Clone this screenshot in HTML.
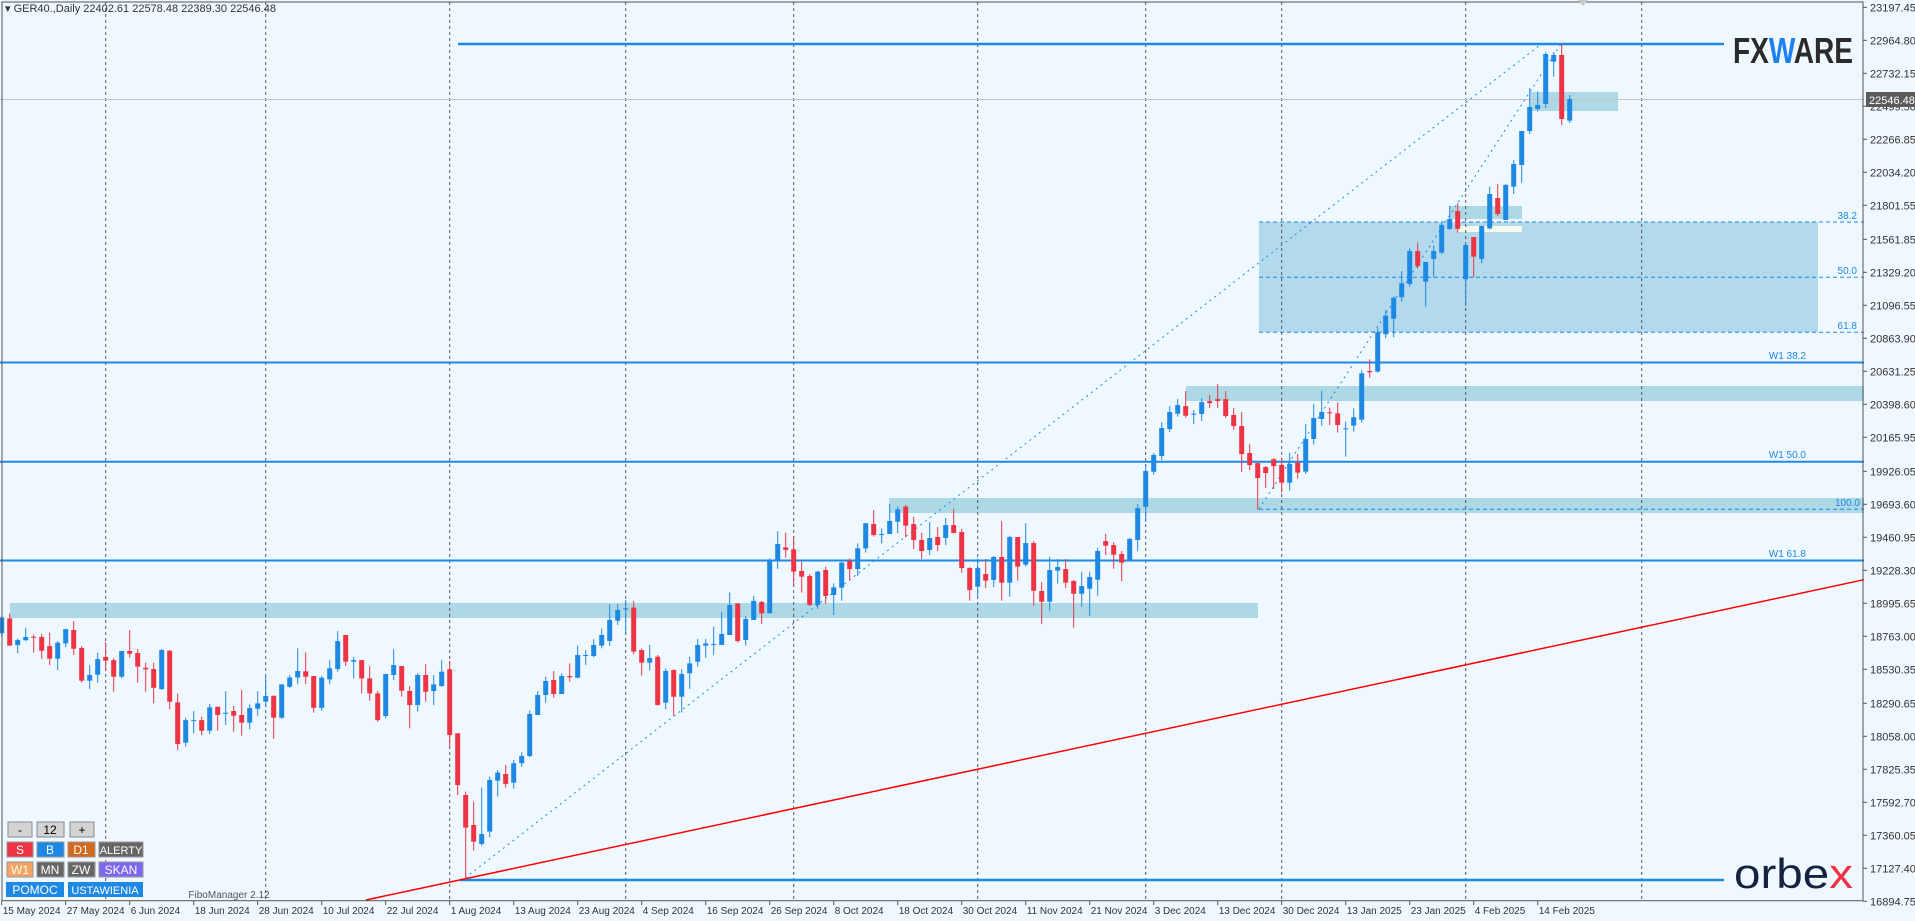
<!DOCTYPE html>
<html><head><meta charset="utf-8">
<style>
html,body{margin:0;padding:0;background:#f0f8ff;}
svg{display:block;font-family:"Liberation Sans",sans-serif;}
</style></head>
<body>
<svg id="chart" width="1915" height="921" viewBox="0 0 1915 921" xmlns="http://www.w3.org/2000/svg">
<rect x="0" y="0" width="1915" height="921" fill="#f0f8ff"/>
<g id="zones">
<rect x="10" y="603" width="1248" height="15" fill="#add8e6"/>
<rect x="889" y="498" width="975" height="15" fill="#add8e6"/>
<rect x="1186" y="386" width="678" height="15" fill="#add8e6"/>
<rect x="1259" y="222" width="559" height="110" fill="#b3d9ec"/>
<rect x="1450" y="206" width="72" height="13" fill="#add8e6"/>
<rect x="1457" y="226" width="65" height="6" fill="#f4fbef"/>
<rect x="1530" y="92" width="88" height="19" fill="#add8e6"/>
</g>
<g id="grid"></g>
<g id="levels">
<line x1="0" y1="99.5" x2="1864" y2="99.5" stroke="#c4c4c4" stroke-width="1"/>
<line x1="458" y1="44" x2="1724" y2="44" stroke="#1e88e5" stroke-width="2.5"/>
<line x1="460" y1="880" x2="1724" y2="880" stroke="#1e88e5" stroke-width="2.5"/>
<line x1="0" y1="362.5" x2="1864" y2="362.5" stroke="#1e88e5" stroke-width="2"/>
<line x1="0" y1="461.7" x2="1864" y2="461.7" stroke="#1e88e5" stroke-width="2"/>
<line x1="0" y1="560.5" x2="1864" y2="560.5" stroke="#1e88e5" stroke-width="2"/>
<line x1="1259" y1="222" x2="1864" y2="222" stroke="#1e88e5" stroke-width="1" stroke-dasharray="4,3"/>
<line x1="1259" y1="277.3" x2="1864" y2="277.3" stroke="#1e88e5" stroke-width="1" stroke-dasharray="4,3"/>
<line x1="1259" y1="332.3" x2="1864" y2="332.3" stroke="#1e88e5" stroke-width="1" stroke-dasharray="4,3"/>
<line x1="1259" y1="509.3" x2="1864" y2="509.3" stroke="#1e88e5" stroke-width="1" stroke-dasharray="4,3"/>
<line x1="465" y1="878" x2="1540" y2="45" stroke="#1e88e5" stroke-width="1" stroke-dasharray="2,4"/>
<line x1="1259" y1="509" x2="1561" y2="44" stroke="#1e88e5" stroke-width="1" stroke-dasharray="2,4"/>
<line x1="366" y1="900" x2="1864" y2="579.7" stroke="#ff0000" stroke-width="1.5"/>
<g font-size="10" fill="#1e88e5" text-anchor="end">
<text x="1857" y="219">38.2</text>
<text x="1857" y="274">50.0</text>
<text x="1857" y="329">61.8</text>
<text x="1860" y="506">100.0</text>
<text x="1806" y="359">W1 38.2</text>
<text x="1806" y="458">W1 50.0</text>
<text x="1806" y="557">W1 61.8</text>
</g>
</g>
<g id="candles"></g>
<rect x="2" y="2" width="1861" height="898.7" fill="none" stroke="#555" stroke-width="1"/>
<polygon points="1578,0 1588,0 1583,6" fill="#c8c8c8"/>
<g id="yaxis"></g>
<g id="xaxis"></g>
<g>
<rect x="1866" y="92" width="49" height="15" fill="#5b5b5b"/>
<text x="1869" y="104" font-size="11" fill="#fff">22546.48</text>
</g>
<text x="5" y="12" font-size="11" fill="#333">▾ GER40.,Daily  22402.61 22578.48 22389.30 22546.48</text>
<g>
<text x="1733" y="63" font-size="36" font-weight="bold" fill="#2b2b2b" textLength="120" lengthAdjust="spacingAndGlyphs">FX<tspan fill="#1e7ff0">W</tspan>ARE</text>
</g>
<g>
<text x="1734" y="888" font-size="42" fill="#14223f" textLength="119" lengthAdjust="spacingAndGlyphs">orbe<tspan fill="#ee3344">x</tspan></text>
</g>
<g font-size="12" text-anchor="middle">
<rect x="8" y="822" width="24" height="15" fill="#d3d3d3" stroke="#888"/><text x="20" y="834" fill="#000">-</text>
<rect x="37" y="822" width="27" height="15" fill="#d3d3d3" stroke="#888"/><text x="50" y="834" fill="#000">12</text>
<rect x="70" y="822" width="24" height="15" fill="#d3d3d3" stroke="#888"/><text x="82" y="834" fill="#000">+</text>
<rect x="7" y="842" width="26" height="15" fill="#ee3344" stroke="#999"/><text x="20" y="854" fill="#fff">S</text>
<rect x="37" y="842" width="27" height="15" fill="#1e88e5" stroke="#999"/><text x="50" y="854" fill="#fff">B</text>
<rect x="68" y="842" width="27" height="15" fill="#d2691e" stroke="#999"/><text x="81" y="854" fill="#fff">D1</text>
<rect x="99" y="842" width="44" height="15" fill="#666" stroke="#999"/><text x="121" y="854" fill="#fff" font-size="11">ALERTY</text>
<rect x="7" y="862" width="26" height="15" fill="#f4a460" stroke="#999"/><text x="20" y="874" fill="#fff">W1</text>
<rect x="37" y="862" width="27" height="15" fill="#666" stroke="#999"/><text x="50" y="874" fill="#fff">MN</text>
<rect x="68" y="862" width="27" height="15" fill="#666" stroke="#999"/><text x="81" y="874" fill="#fff">ZW</text>
<rect x="99" y="862" width="44" height="15" fill="#7b68ee" stroke="#999"/><text x="121" y="874" fill="#fff">SKAN</text>
<rect x="6" y="882" width="58" height="15" fill="#1e88e5"/><text x="35" y="894" fill="#fff">POMOC</text>
<rect x="68" y="882" width="75" height="15" fill="#1e88e5"/><text x="105" y="894" fill="#fff" font-size="11">USTAWIENIA</text>
<text x="229" y="898" font-size="10" fill="#555">FiboManager 2.12</text>
</g>
</svg>
<script>
const opens=[18784,18889,18701,18736,18760,18758,18694,18605,18713,18807,18680,18450,18492,18617,18595,18478,18659,18645,18541,18532,18391,18661,18297,18013,18167,18172,18097,18266,18219,18236,18208,18154,18252,18302,18344,18189,18407,18473,18516,18483,18259,18459,18532,18772,18584,18595,18466,18360,18201,18490,18553,18377,18278,18490,18377,18412,18530,18079,
17644,17433,17299,17386,17745,17792,17731,17868,17919,18208,18349,18455,18356,18483,18471,18631,18624,18697,18730,18873,18953,18965,18666,18577,18619,18295,18525,18337,18502,18584,18697,18704,18702,18772,18995,18737,18878,19005,18925,19301,19390,19376,19223,19188,18984,19230,19054,19106,19294,19237,19383,19555,19480,19484,19571,
19677,19554,19442,19371,19463,19456,19547,19498,19244,19113,19202,19160,19322,19141,19463,19268,19420,19082,19007,19226,19237,19152,19063,19098,19162,19434,19406,19343,19296,19442,19676,19923,20034,20224,20332,20386,20327,20330,20421,20435,20435,20323,20245,20055,19984,19956,20011,19971,
19846,19987,19924,20154,20295,20342,20335,20222,20248,20290,20633,20629,20892,21002,21153,21247,21479,21263,21423,21468,21635,21761,21280,21578,21423,21639,21853,21698,21933,22086,22325,22481,22516,22814,22861,22398];
const highs=[18906,18924,18748,18823,18776,18781,18788,18729,18814,18870,18694,18560,18647,18722,18607,18659,18807,18673,18577,18577,18673,18666,18360,18189,18236,18196,18285,18266,18377,18271,18384,18283,18377,18490,18344,18424,18490,18678,18650,18483,18483,18595,18800,18772,18619,18595,18553,18377,18497,18673,18553,18412,18502,18567,18490,18595,18589,18079,
17668,17597,17696,17774,17821,17856,17891,17945,18239,18377,18478,18518,18502,18572,18697,18666,18742,18819,18988,18991,19019,19012,18678,18702,18631,18537,18530,18530,18619,18744,18744,18831,18937,19071,18995,18906,19047,19012,19313,19505,19494,19470,19289,19202,19223,19254,19136,19289,19313,19418,19560,19653,19524,19696,19677,
19688,19606,19493,19568,19533,19597,19662,19521,19251,19312,19308,19329,19575,19472,19463,19561,19434,19145,19322,19308,19308,19160,19218,19218,19387,19486,19427,19364,19458,19695,19970,20055,20273,20386,20436,20492,20358,20443,20464,20541,20492,20372,20344,20118,19984,19963,20020,20018,
20058,20048,20260,20401,20495,20375,20412,20276,20370,20640,20716,20934,21064,21158,21338,21498,21538,21402,21517,21679,21797,21815,21522,21578,21656,21933,21952,21952,22121,22325,22629,22603,22882,22882,22939,22579];
const lows=[18760,18697,18643,18729,18647,18603,18560,18525,18685,18631,18436,18391,18436,18520,18372,18466,18612,18436,18372,18290,18384,18248,17961,17985,18079,18067,18074,18097,18137,18090,18062,18107,18203,18266,18039,18180,18400,18426,18426,18224,18238,18426,18513,18553,18466,18360,18309,18161,18184,18454,18337,18114,18231,18302,18278,18407,17985,17644,
17045,17252,17287,17346,17633,17696,17689,17844,17910,18208,18295,18330,18356,18443,18467,18561,18615,18678,18695,18843,18784,18636,18485,18521,18274,18248,18201,18225,18392,18549,18612,18631,18702,18772,18718,18697,18878,18850,18925,19238,19317,19125,19071,18977,18956,18991,18913,19014,19155,19188,19353,19465,19418,19484,19489,
19460,19378,19308,19336,19364,19406,19489,19211,19014,19035,19103,19110,19014,19042,19155,19254,18979,18849,18943,19134,19103,18823,18972,18908,19049,19336,19239,19152,19296,19364,19568,19902,20006,20203,20311,20304,20259,20280,20372,20372,20302,20219,19921,19935,19655,19808,19801,19776,
19790,19877,19907,20116,20248,20253,20199,20029,20206,20269,20586,20622,20864,20871,21122,21228,21357,21087,21294,21456,21628,21609,21092,21294,21393,21632,21726,21698,21881,21961,22304,22462,22488,22708,22368,22382];
const closes=[18896,18697,18736,18758,18753,18661,18605,18718,18814,18675,18450,18490,18602,18591,18478,18659,18640,18549,18530,18400,18666,18302,18003,18172,18172,18097,18262,18208,18224,18203,18154,18257,18290,18342,18189,18424,18473,18518,18478,18259,18471,18537,18729,18584,18595,18466,18360,18172,18497,18560,18379,18278,18490,18372,18424,18513,18067,17714,
17414,17315,17369,17750,17802,17722,17868,17919,18215,18349,18448,18356,18483,18474,18631,18631,18702,18772,18878,18948,18960,18655,18577,18610,18279,18518,18337,18497,18572,18702,18713,18709,18779,18984,18730,18885,19012,18925,19301,19414,19372,19219,19183,18984,19219,19047,19108,19282,19237,19383,19560,19477,19484,19576,19658,
19543,19442,19364,19456,19406,19547,19491,19244,19089,19244,19155,19322,19141,19463,19254,19420,19084,19007,19230,19251,19141,19063,19117,19181,19364,19402,19338,19282,19449,19667,19928,20041,20231,20344,20393,20318,20332,20414,20407,20421,20316,20245,20048,19970,19879,19914,19963,19846,
19978,19917,20154,20302,20344,20337,20253,20229,20307,20617,20624,20906,21024,21150,21252,21479,21374,21402,21479,21663,21705,21635,21522,21440,21656,21881,21740,21945,22093,22325,22495,22509,22868,22861,22410,22551];
const priceTicks=["23197.45","22964.80","22732.15","22499.50","22266.85","22034.20","21801.55","21561.85","21329.20","21096.55","20863.90","20631.25","20398.60","20165.95","19926.05","19693.60","19460.95","19228.30","18995.65","18763.00","18530.35","18290.65","18058.00","17825.35","17592.70","17360.05","17127.40","16894.75"];
const dateLabels=["15 May 2024","27 May 2024","6 Jun 2024","18 Jun 2024","28 Jun 2024","10 Jul 2024","22 Jul 2024","1 Aug 2024","13 Aug 2024","23 Aug 2024","4 Sep 2024","16 Sep 2024","26 Sep 2024","8 Oct 2024","18 Oct 2024","30 Oct 2024","11 Nov 2024","21 Nov 2024","3 Dec 2024","13 Dec 2024","30 Dec 2024","13 Jan 2025","23 Jan 2025","4 Feb 2025","14 Feb 2025"];
const dateBars=[0,8,16,24,32,40,48,56,64,72,80,88,96,104,112,120,128,136,144,152,160,168,176,184,192];
const monthBars=[13,33,56,78,99,122,143,160,183,205];

const NS="http://www.w3.org/2000/svg";
function yScale(p){return 7.3+(23197.45-p)*0.14184;}
function xScale(i){return 1.7+8*i;}
function mk(tag,attrs,parent){const e=document.createElementNS(NS,tag);for(const k in attrs)e.setAttribute(k,attrs[k]);parent.appendChild(e);return e;}

const grid=document.getElementById('grid');
monthBars.forEach(b=>{
  const l=mk('line',{x1:xScale(b),y1:2,x2:xScale(b),y2:900,stroke:'#555','stroke-width':1,'stroke-dasharray':'3,3'},grid);
  
  
});

const cg=document.getElementById('candles');
for(let i=0;i<closes.length;i++){
  const up=closes[i]>=opens[i];
  const col=up?'#1e88e5':'#ee3344';
  const x=xScale(i);
  const g=mk('g',{},cg);
  
  
  mk('line',{x1:x,y1:yScale(highs[i]),x2:x,y2:yScale(lows[i]),stroke:col,'stroke-width':1},g);
  const yt=yScale(Math.max(opens[i],closes[i])),yb=yScale(Math.min(opens[i],closes[i]));
  mk('rect',{x:x-2.5,y:yt,width:5,height:Math.max(1,yb-yt),fill:col},g);
}

const ya=document.getElementById('yaxis');
priceTicks.forEach(t=>{
  const y=yScale(parseFloat(t));
  mk('line',{x1:1863,y1:y,x2:1867,y2:y,stroke:'#555','stroke-width':1},ya);
  const tx=mk('text',{x:1870,y:y+4,'font-size':11,fill:'#333'},ya);
  tx.textContent=t;
  
  
});

const xa=document.getElementById('xaxis');
dateLabels.forEach((d,k)=>{
  const x=xScale(dateBars[k]);
  mk('line',{x1:x,y1:901,x2:x,y2:905,stroke:'#555','stroke-width':1},xa);
  const tx=mk('text',{x:x+1,y:914,'font-size':10,fill:'#333'},xa);
  tx.textContent=d;
  
  
});
</script>
</body></html>
